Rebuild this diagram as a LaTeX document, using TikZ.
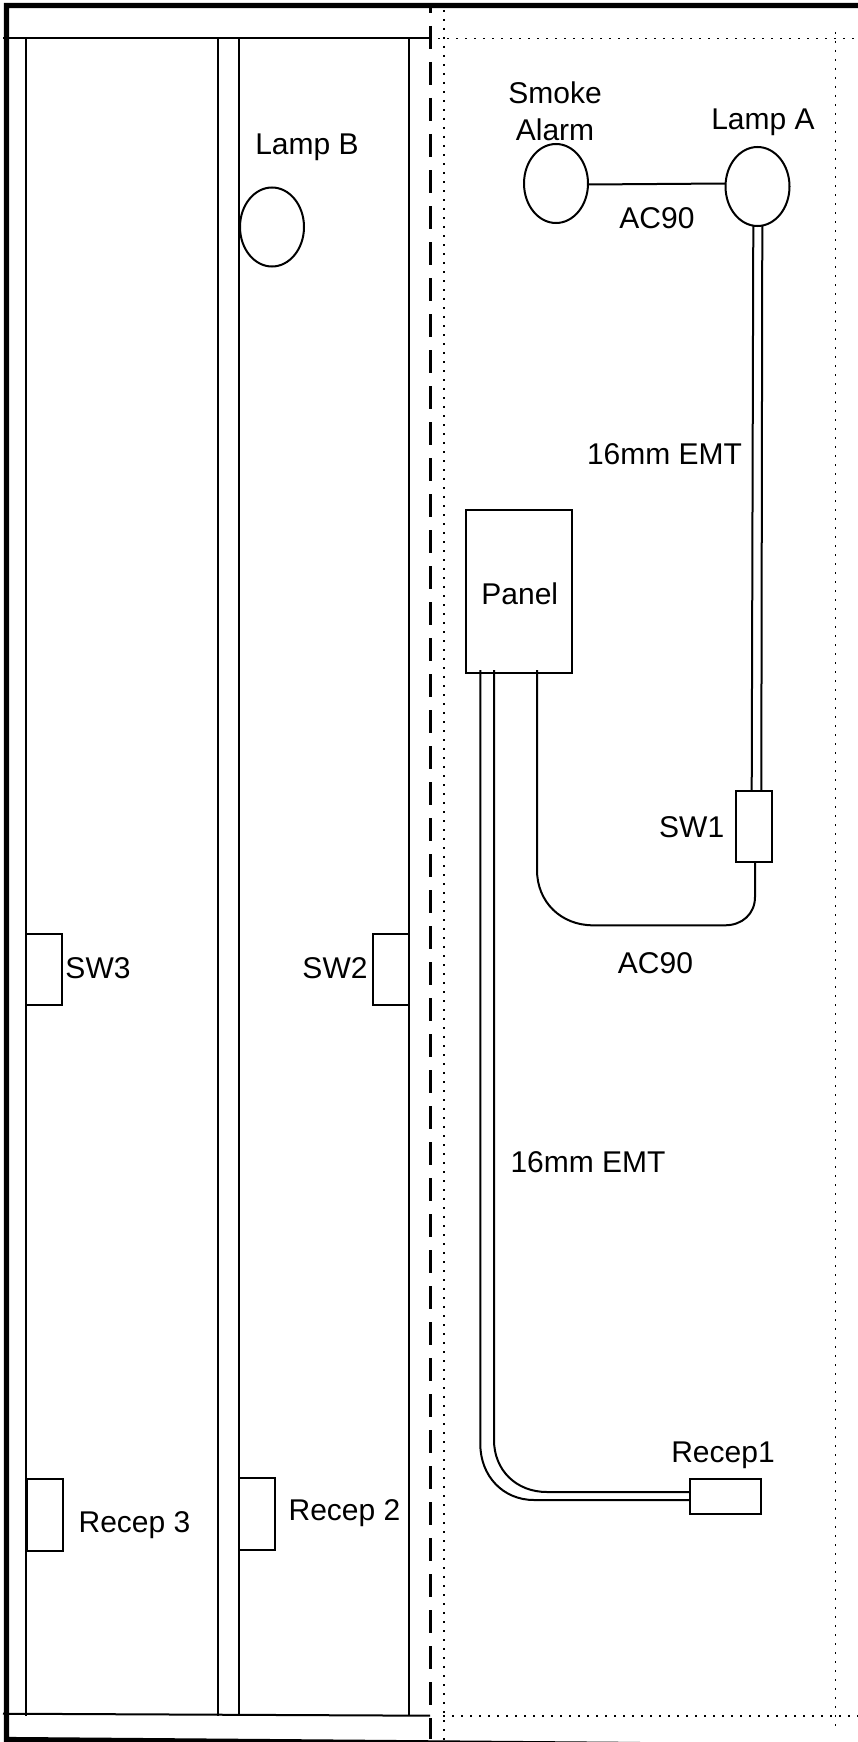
\documentclass[tikz,border=0pt]{standalone}
\usepackage{fontspec}
\setmainfont{Liberation Sans}
\usetikzlibrary{shapes.geometric, positioning}
\tikzstyle{wire} = [line width=2pt, line join=round]
\tikzstyle{wall} = [line width=5.2pt]
\tikzstyle{stud} = [line width=2pt]
\tikzstyle{party} = [line width=3pt, dash pattern=on 23pt off 13pt, dash phase=18pt]
\tikzstyle{gridline} = [line width=1.8pt, dash pattern=on 1.8pt off 7.2pt]
\tikzstyle{lamp} = [ellipse, draw=black, line width=2pt, minimum width=64pt, minimum height=79pt, inner sep=0pt, outer sep=0pt]
\tikzstyle{box} = [rectangle, draw=black, line width=2pt, inner sep=0pt, outer sep=0pt]
\tikzstyle{wallbox} = [box, minimum width=36pt, minimum height=71.5pt]
\tikzstyle{lbl} = [anchor=base, align=center, inner sep=0pt, font=\fontsize{30}{36}\selectfont]

\begin{document}
\begin{tikzpicture}[x=1pt, y=-1pt, node distance=100pt]
\useasboundingbox (0,0) rectangle (858,1742);
%----------------------------------------------------------------------------
% Placement of devices
\node (smokeAlarm) [lamp] at (556,183.5) {};
\node (lampA) [lamp, right of = smokeAlarm, node distance = 201.5pt, yshift=-3pt] {};
\node (lampB) [lamp, left of = smokeAlarm, node distance = 284pt, yshift=-43.5pt] {};

\node (panel) [box, minimum width=106.5pt, minimum height=163.5pt] at (519,591.6) {\hspace{1.5pt}\raisebox{-12.9pt}[0pt][0pt]{\fontsize{30}{36}\selectfont Panel}};
\node (swOne) [wallbox, below of = lampA, node distance = 640.2pt, xshift=-4pt] {};
\node (recepOne) [box, minimum width=71pt, minimum height=35pt] at (725.5,1496.5) {};

\node (swThree) [wallbox] at (43.7,969.5) {};
\node (swTwo) [wallbox, right of = swThree, node distance = 347.3pt] {};
\node (recepThree) [wallbox, below of = swThree, node distance = 545.5pt, xshift=0.8pt] {};
\node (recepTwo) [wallbox, right of = recepThree, node distance = 212.5pt, yshift=1pt] {};

%----------------------------------------------------------------------------
% Walls and framing
\coordinate (cornerTL) at (6.5,5.6);
\coordinate (cornerTR) at (858,5.6);
\coordinate (cornerBL) at (6.5,1739.5);
\coordinate (cornerBR) at (640,1744.5);
\draw [wall] (cornerTR) -- (cornerTL) -- (cornerBL) -- (cornerBR);

\coordinate (topL) at (3,38.5);
\coordinate (topR) at (430,38.5);
\coordinate (botL) at (3,1713.7);
\coordinate (botR) at (430,1715.7);
\draw [stud] (topL) -- (topR);
\draw [stud] (botL) -- (botR);
\foreach \x in {25.7,217.5,239,409} {
	\coordinate (studT) at (\x,38);
	\coordinate (studB) at (\x,1716);
	\draw [stud] (studT) -- (studB);
}

\coordinate (partyT) at (430,8);
\coordinate (partyB) at (430,1739);
\draw [party] (partyT) -- (partyB);

%----------------------------------------------------------------------------
% Dotted grid
\coordinate (dotAT) at (444,10);
\coordinate (dotAB) at (444,1740);
\coordinate (dotBT) at (835.5,32);
\coordinate (dotBB) at (835.5,1731);
\coordinate (dotCL) at (438,38.5);
\coordinate (dotCR) at (858,38.5);
\coordinate (dotDL) at (443,1716);
\coordinate (dotDR) at (858,1716);
\draw [gridline] (dotAT) -- (dotAB);
\draw [gridline] (dotBT) -- (dotBB);
\draw [gridline] (dotCL) -- (dotCR);
\draw [gridline] (dotDL) -- (dotDR);

%----------------------------------------------------------------------------
% Lines
\draw [wire] ([yshift=-1pt]smokeAlarm.east) -- ([yshift=3pt]lampA.west);
\draw [wire] ([xshift=-4.2pt]lampA.south) -- ([xshift=-1.8pt]swOne.north);
\draw [wire] ([xshift=4.8pt]lampA.south) -- ([xshift=7.8pt]swOne.north);

% feed to the switch
\coordinate (feedA) at (537,870);
\coordinate (feedB) at (593,925.3);
\coordinate (feedC) at (725,925.3);
\coordinate (feedD) at (755,897);
\draw [wire] ([xshift=18pt,yshift=3.3pt]panel.south) -- (feedA) .. controls (537,902) and (561,925.3) .. (feedB) -- (feedC) .. controls (742,925.3) and (755,914) .. (feedD) -- ([xshift=1.5pt]swOne.south);

% conduit to the receptacle
\coordinate (outerA) at (480.3,1444);
\coordinate (outerB) at (534,1500);
\coordinate (innerA) at (494,1440);
\coordinate (innerB) at (547,1492);
\draw [wire] ([xshift=-38.7pt,yshift=3.3pt]panel.south) -- (outerA) .. controls (480.3,1476) and (503,1500) .. (outerB) -- (recepOne.west |- outerB);
\draw [wire] ([xshift=-25pt,yshift=3.3pt]panel.south) -- (innerA) .. controls (494,1470) and (516,1492) .. (innerB) -- (recepOne.west |- innerB);

%----------------------------------------------------------------------------
% Labels
\node (lblSmoke) [lbl] at (555,140) {Smoke\\Alarm};
\node (lblLampA) [lbl] at (763,129) {Lamp A};
\node (lblLampB) [lbl] at (307,154) {Lamp B};
\node (lblAcTop) [lbl] at (657,228) {AC90};
\node (lblEmtTop) [lbl] at (664.5,464) {16mm EMT};
\node (lblSwOne) [lbl] at (691.7,837) {SW1};
\node (lblAcBot) [lbl] at (655.5,973) {AC90};
\node (lblEmtBot) [lbl] at (588,1172.5) {16mm EMT};
\node (lblRecepOne) [lbl] at (723,1462) {Recep1};
\node (lblSwThree) [lbl] at (98,978.7) {SW3};
\node (lblSwTwo) [lbl] at (335,978.7) {SW2};
\node (lblRecepThree) [lbl] at (134.5,1532) {Recep 3};
\node (lblRecepTwo) [lbl] at (344.5,1520) {Recep 2};
\end{tikzpicture}
\end{document}
